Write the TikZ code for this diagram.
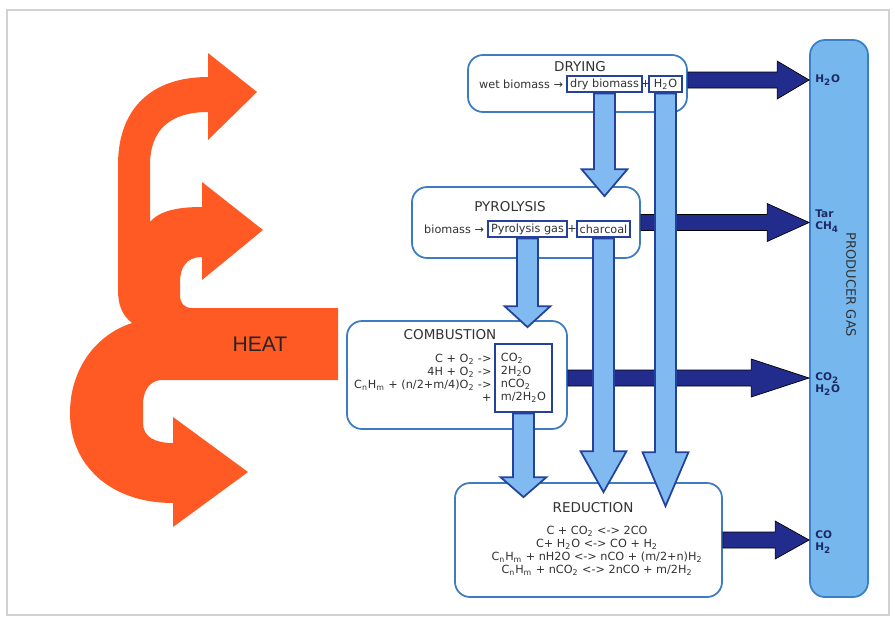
\documentclass[tikz,border=0pt]{standalone}
\usepackage{fontspec}
\setmainfont{DejaVu Sans}
\newfontfamily\heatfont{Liberation Sans}
\usetikzlibrary{calc,positioning}

\definecolor{heatorange}{RGB}{255,90,36}
\definecolor{boxblue}{RGB}{62,124,194}
\definecolor{lightflow}{RGB}{128,186,240}
\definecolor{flowedge}{RGB}{36,66,156}
\definecolor{darkflow}{RGB}{34,44,140}
\definecolor{gasfill}{RGB}{118,184,238}
\definecolor{gasedge}{RGB}{58,128,200}
\definecolor{textgrey}{RGB}{50,50,50}
\definecolor{labelnavy}{RGB}{30,40,100}

\newcommand{\tsub}[1]{\textsubscript{#1}}
\newcommand{\eqsize}{\fontsize{6.4}{7.4}\selectfont}

\begin{document}
\begin{tikzpicture}
	[
		x=0.2mm, y=-0.2mm,
		stagebox/.style={rectangle, rounded corners=3mm, draw=boxblue, line width=1pt, fill=white},
		itembox/.style={rectangle, draw=flowedge, line width=0.8pt, fill=white, minimum height=3.2mm, inner sep=0pt, font=\eqsize, text=textgrey},
		stagetitle/.style={font=\fontsize{7.7}{9}\selectfont, text=textgrey},
		eqtext/.style={font=\eqsize, text=textgrey, inner sep=0pt},
		gaslabel/.style={font=\fontsize{6}{7}\selectfont\bfseries, text=labelnavy, align=left, anchor=west, inner sep=0pt},
		fatdown/.style={fill=lightflow, draw=flowedge, line width=1pt,
			to path={let \p1=(\tikztostart), \p2=(\tikztotarget) in
				($(\x1,\y1)+(-10.5,0)$) -- ($(\x1,\y2)+(-10.5,-#1)$) -- ($(\x1,\y2)+(-23,-#1)$) -- (\x1,\y2)
				-- ($(\x1,\y2)+(23,-#1)$) -- ($(\x1,\y2)+(10.5,-#1)$) -- ($(\x1,\y1)+(10.5,0)$) -- cycle}},
		fatright/.style={fill=darkflow,
			to path={let \p1=(\tikztostart), \p2=(\tikztotarget) in
				($(\x1,\y1)+(0,-8)$) -- ($(\x2,\y1)+(-#1,-8)$) -- ($(\x2,\y1)+(-#1,-19)$) -- (\x2,\y1)
				-- ($(\x2,\y1)+(-#1,19)$) -- ($(\x2,\y1)+(-#1,8)$) -- ($(\x1,\y1)+(0,8)$) -- cycle}},
	]
	\useasboundingbox (0,0) rectangle (895,621);
	\draw[gray!35, line width=0.8pt] (7,10) rectangle (889,615);

	% heat
	\fill[heatorange] (208,77) -- (208,53) -- (257,92) -- (208,140) -- (208,112)
		.. controls (170,112) and (150,130) .. (150,165) -- (150,222)
		.. controls (160,210) and (180,207) .. (202,207)
		-- (202,182) -- (263,230) -- (202,280) -- (202,257)
		.. controls (186,257) and (180,268) .. (180,282) -- (180,295)
		.. controls (180,303) and (184,308) .. (192,308)
		-- (338,308) -- (338,380) -- (160,380)
		.. controls (148,382) and (143,392) .. (143,405) -- (143,423)
		.. controls (143,437) and (155,443) .. (173,443)
		-- (173,417) -- (248,472) -- (173,527) -- (173,503)
		.. controls (110,503) and (70,465) .. (70,413)
		.. controls (70,370) and (95,335) .. (132,323)
		.. controls (122,315) and (118,305) .. (118,290) -- (118,165)
		.. controls (118,108) and (152,77) .. (208,77) -- cycle;
	\node[font=\heatfont\fontsize{12}{14}\selectfont, text=black!85] (heat) at (260,344) {HEAT};

	% producer gas
	\node[rectangle, rounded corners=3mm, draw=gasedge, line width=1pt, fill=gasfill, minimum width=11.6mm, minimum height=111.4mm] (gas) at (839,318.5) {};
	\node[rotate=-90, font=\fontsize{7.4}{9}\selectfont, text=textgrey] (gastitle) at (851,285) {PRODUCER GAS};

	% stages
	\node[stagebox, minimum width=43.8mm, minimum height=11.4mm] (drying) at (577.5,83.5) {};
	\node[stagebox, minimum width=45.6mm, minimum height=14.2mm] (pyrolysis) at (526,222.5) {};
	\node[stagebox, minimum width=44mm, minimum height=21.6mm] (combustion) at (457,375) {};
	\node[stagebox, minimum width=53.4mm, minimum height=22.8mm] (reduction) at (588.5,540) {};

	\node[stagetitle] (dryingtitle) at (580,67) {DRYING};
	\node[stagetitle] (pyrolysistitle) at (510,207) {PYROLYSIS};
	\node[stagetitle] (combustiontitle) at (450,335) {COMBUSTION};
	\node[stagetitle] (reductiontitle) at (593,508) {REDUCTION};

	% outflows
	\draw[fatright=32] ([yshift=0.7mm]drying.east) to (gas.west);
	\draw[fatright=42] (pyrolysis.east) to (gas.west);
	\draw[fatright=58] ([yshift=-0.6mm]combustion.east) to (gas.west);
	\draw[fatright=34] (reduction.east) to (gas.west);

	\node[gaslabel] (outh2o) at (815,80) {H\tsub{2}O};
	\node[gaslabel] (outtar) at (815,221) {Tar\\CH\tsub{4}};
	\node[gaslabel] (outco2) at (815,384) {CO\tsub{2}\\H\tsub{2}O};
	\node[gaslabel] (outco) at (815,542) {CO\\H\tsub{2}};

	% products
	\node[itembox, minimum width=15mm] (drybio) at (604.5,84) {dry biomass};
	\node[itembox, minimum width=6.6mm] (dryh2o) at (665.5,84) {H\tsub{2}O};
	\node[eqtext, anchor=east] (wetbio) at ([xshift=-0.6mm]drybio.west) {wet biomass →};
	\node[eqtext] (plusdry) at ($(drybio.east)!0.5!(dryh2o.west)$) {+};

	\node[itembox, minimum width=15.8mm] (pyrogas) at (527.5,229) {Pyrolysis gas};
	\node[itembox, minimum width=10.6mm] (charcoal) at (603.5,229) {charcoal};
	\node[eqtext, anchor=east] (biomass) at ([xshift=-0.6mm]pyrogas.west) {biomass →};
	\node[eqtext] (pluspyro) at ($(pyrogas.east)!0.5!(charcoal.west)$) {+};

	\node[itembox, minimum width=11.4mm, minimum height=13.6mm, align=left] (combprod) at (523.5,378)
		{CO\tsub{2}\\2H\tsub{2}O\\nCO\tsub{2}\\m/2H\tsub{2}O};
	\node[eqtext, anchor=east, align=right] (combreact) at ([xshift=-0.5mm]combprod.west)
		{C + O\tsub{2} ->\\4H + O\tsub{2} ->\\C\tsub{n}H\tsub{m} + (n/2+m/4)O\tsub{2} ->\\+};

	\node[eqtext, align=center] (redeqs) at (597,551)
		{C + CO\tsub{2} <-> 2CO\\C+ H\tsub{2}O <-> CO + H\tsub{2}\\C\tsub{n}H\tsub{m} + nH2O <-> nCO + (m/2+n)H\tsub{2}\\C\tsub{n}H\tsub{m} + nCO\tsub{2} <-> 2nCO + m/2H\tsub{2}};

	% flows between stages
	\draw[fatdown=27] ([yshift=-0.4pt]drybio.south) to ([yshift=-2mm]pyrolysis.north);
	\draw[fatdown=54] ([yshift=-0.4pt]dryh2o.south) to ([yshift=-4.8mm]reduction.north);
	\draw[fatdown=21] ([yshift=-0.4pt]pyrogas.south) to ([yshift=-1.4mm]combustion.north);
	\draw[fatdown=41] ([yshift=-0.4pt]charcoal.south) to ([yshift=-2mm]reduction.north);
	\draw[fatdown=20] ([yshift=-0.4pt]combprod.south) to ([yshift=-3mm]reduction.north);

\end{tikzpicture}
\end{document}
